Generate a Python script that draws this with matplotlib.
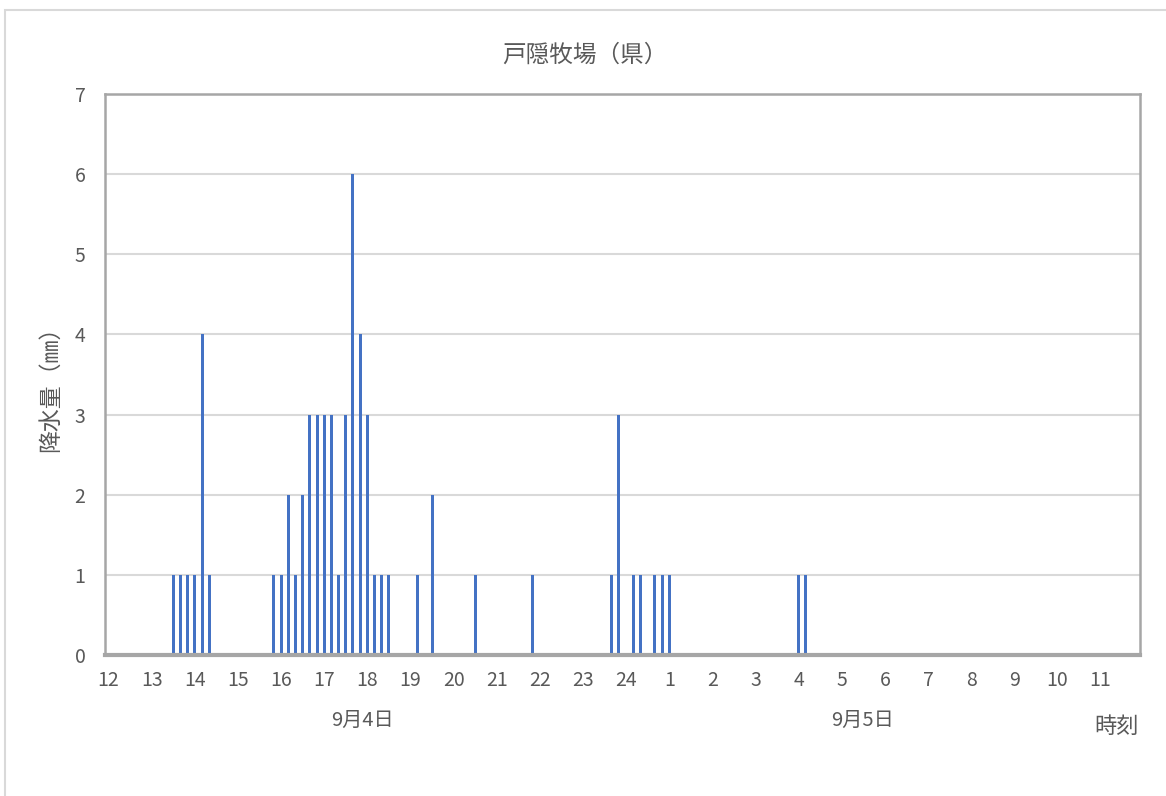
import matplotlib
matplotlib.use("Agg")
import matplotlib.pyplot as plt
import numpy as np
from matplotlib.patches import Rectangle

plt.rcParams['font.family'] = ['Noto Sans CJK JP', 'DejaVu Sans']

title = "戸隠牧場（県）"
y_label = "降水量（㎜）"
x_label = "時刻"
date_labels = ["9月4日", "9月5日"]
hour_labels = ["12", "13", "14", "15", "16", "17", "18", "19", "20", "21", "22", "23",
               "24", "1", "2", "3", "4", "5", "6", "7", "8", "9", "10", "11"]

# 10-minute rainfall (mm), one row per hour, starting 9/4 12:00
rain_mm = [
    0, 0, 0, 0, 0, 0,   # 12
    0, 0, 0, 1, 1, 1,   # 13
    1, 4, 1, 0, 0, 0,   # 14
    0, 0, 0, 0, 0, 1,   # 15
    1, 2, 1, 2, 3, 3,   # 16
    3, 3, 1, 3, 6, 4,   # 17
    3, 1, 1, 1, 0, 0,   # 18
    0, 1, 0, 2, 0, 0,   # 19
    0, 0, 0, 1, 0, 0,   # 20
    0, 0, 0, 0, 0, 1,   # 21
    0, 0, 0, 0, 0, 0,   # 22
    0, 0, 0, 0, 1, 3,   # 23
    0, 1, 1, 0, 1, 1,   # 24
    1, 0, 0, 0, 0, 0,   # 1
    0, 0, 0, 0, 0, 0,   # 2
    0, 0, 0, 0, 0, 0,   # 3
    1, 1, 0, 0, 0, 0,   # 4
    0, 0, 0, 0, 0, 0,   # 5
    0, 0, 0, 0, 0, 0,   # 6
    0, 0, 0, 0, 0, 0,   # 7
    0, 0, 0, 0, 0, 0,   # 8
    0, 0, 0, 0, 0, 0,   # 9
    0, 0, 0, 0, 0, 0,   # 10
    0, 0, 0, 0, 0, 0,   # 11
]

W, H = 1166, 796
fig = plt.figure(figsize=(W / 100, H / 100), dpi=100)
fig.patch.set_facecolor('white')

# outer chart border (left/top visible)
fig.add_artist(Rectangle((5 / W, -0.05), 1.2, 1 - 10 / H + 0.05, transform=fig.transFigure,
                         fill=False, edgecolor='#d9d9d9', linewidth=1.5))

left, right, top, bottom = 105, 1140, 94, 655
ax = fig.add_axes([left / W, 1 - bottom / H, (right - left) / W, (bottom - top) / H])

n = len(rain_mm)
x = np.arange(n)
ax.bar(x, rain_mm, width=0.42, color='#4472C4', zorder=3)

ax.set_xlim(-0.5, n - 0.5)
ax.set_ylim(0, 7)
ax.set_yticks(range(0, 8))
ax.set_xticks(x[::6])
ax.set_xticklabels(hour_labels)
ax.tick_params(axis='both', length=0, labelsize=14, labelcolor='#595959')
ax.tick_params(axis='x', pad=11)
ax.tick_params(axis='y', pad=14)
ax.grid(axis='y', color='#d9d9d9', linewidth=1.5, zorder=0)
for s in ['left', 'right', 'top']:
    ax.spines[s].set_color('#a6a6a6')
    ax.spines[s].set_linewidth(1.8)
ax.spines['bottom'].set_color('#a6a6a6')
ax.spines['bottom'].set_linewidth(3)
ax.spines['bottom'].set_zorder(4)

fig.text(585 / W, 1 - 55 / H, title, ha='center', va='center', fontsize=17, color='#595959')
fig.text(50 / W, 1 - 383 / H, y_label, ha='center', va='center', rotation=90,
         fontsize=16.5, color='#595959')
fig.text(362 / W, 1 - 720 / H, date_labels[0], ha='center', va='center', fontsize=14.5, color='#595959')
fig.text(862 / W, 1 - 720 / H, date_labels[1], ha='center', va='center', fontsize=14.5, color='#595959')
fig.text(1117 / W, 1 - 726 / H, x_label, ha='center', va='center', fontsize=16, color='#595959')

fig.savefig('out.png', dpi=100, facecolor='white')
